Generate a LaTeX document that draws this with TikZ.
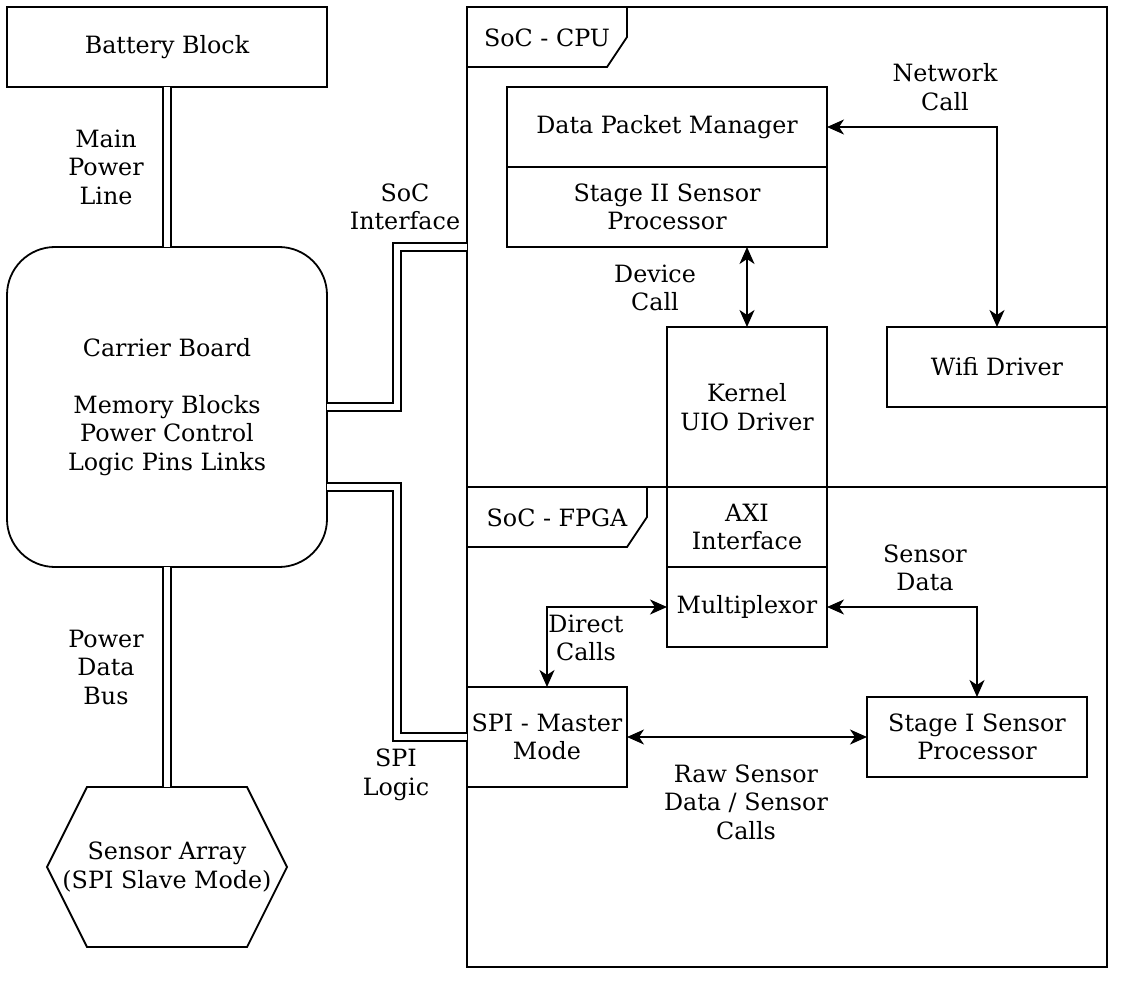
\documentclass[tikz,border=0pt]{standalone}
\usepackage{fontspec}
\setmainfont{DejaVu Serif}
\usetikzlibrary{arrows.meta}

\begin{document}
\begin{tikzpicture}[x=1pt, y=-1pt, line width=1.8pt,
    every node/.style={font=\fontsize{23.8}{28.5}\selectfont, align=center, outer sep=0pt, inner sep=0pt},
    block/.style={draw=black, rectangle, minimum width=#1, minimum height=80pt},
    block/.default=320pt,
    frame/.style={draw=black, rectangle, minimum width=640pt, minimum height=480pt},
    bus/.style={draw=black, double=white, double distance=6pt},
    link/.style={draw=black, {Stealth[length=17pt, width=15pt, inset=5pt]}-{Stealth[length=17pt, width=15pt, inset=5pt]}}]
    \useasboundingbox (0, 0) rectangle (1124, 984);

    % draw soc frames
    \node[frame] (cpu) at (787, 247) {};
    \node[frame] (fpga) at (787, 727) {};
    \draw[color=black] (cpu.north west) -- ++(160, 0) -- ++(0, 30) -- ++(-20, 30) -- ++(-140, 0);
    \node (cputab) at (547, 38) {SoC - CPU};
    \draw[color=black] (fpga.north west) -- ++(180, 0) -- ++(0, 30) -- ++(-20, 30) -- ++(-160, 0);
    \node (fpgatab) at (557, 518) {SoC - FPGA};

    % draw left side blocks
    \node[block] (battery) at (167, 47) {Battery Block};
    \node[draw=black, rectangle, rounded corners=48pt, minimum width=320pt, minimum height=320pt] (carrier) at (167, 407)
      {Carrier Board\\[28.5pt]Memory Blocks\\Power Control\\Logic Pins Links};
    \node[minimum width=240pt, minimum height=160pt] (sensors) at (167, 867) {Sensor Array\\(SPI Slave Mode)};
    \draw[color=black] ([xshift=40pt]sensors.north west) -- ([xshift=-40pt]sensors.north east) -- (sensors.east)
      -- ([xshift=-40pt]sensors.south east) -- ([xshift=40pt]sensors.south west) -- (sensors.west) -- cycle;

    % draw cpu blocks
    \node[block] (dpm) at (667, 127) {Data Packet Manager};
    \node[block] (stage2) at (667, 207) {Stage II Sensor\\Processor};
    \node[block=160pt, minimum height=160pt] (kernel) at (747, 407) {Kernel\\UIO Driver};
    \node[block=220pt] (wifi) at (997, 367) {Wifi Driver};

    % draw fpga blocks
    \node[block=160pt] (axi) at (747, 527) {AXI\\Interface};
    \node[block=160pt] (mux) at (747, 607) {Multiplexor};
    \node[block=160pt, minimum height=100pt] (spi) at (547, 737) {SPI - Master\\Mode};
    \node[block=220pt] (stage1) at (977, 737) {Stage I Sensor\\Processor};

    % draw double buses
    \draw[bus] (battery.south) -- (carrier.north);
    \draw[bus] (carrier.south) -- (sensors.north);
    \draw[bus] (carrier.east) -- (397, 407) -- (397, 247) -- (cpu.west);
    \draw[bus] ([yshift=-80pt]carrier.east) -- (397, 487) -- (397, 737) -- (spi.west);
    \node (mainlbl) at (106, 167) {Main\\Power\\Line};
    \node (buslbl) at (106, 667) {Power\\Data\\Bus};
    \node (soclbl) at (405, 207) {SoC\\Interface};
    \node (spilbl) at (396, 775) {SPI\\Logic};

    % draw calls
    \draw[link] (dpm.east) -| (wifi.north);
    \draw[link] (kernel.north |- stage2.south) -- (kernel.north);
    \draw[link] (mux.east) -| (stage1.north);
    \draw[link] (mux.west) -| (spi.north);
    \draw[link] (spi.east) -- (stage1.west);
    \node (netlbl) at (945, 87) {Network\\Call};
    \node (devlbl) at (655, 288) {Device\\Call};
    \node (senslbl) at (925, 568) {Sensor\\Data};
    \node (directlbl) at (586, 638) {Direct\\Calls};
    \node (rawlbl) at (746, 802) {Raw Sensor\\Data / Sensor\\Calls};
\end{tikzpicture}
\end{document}
